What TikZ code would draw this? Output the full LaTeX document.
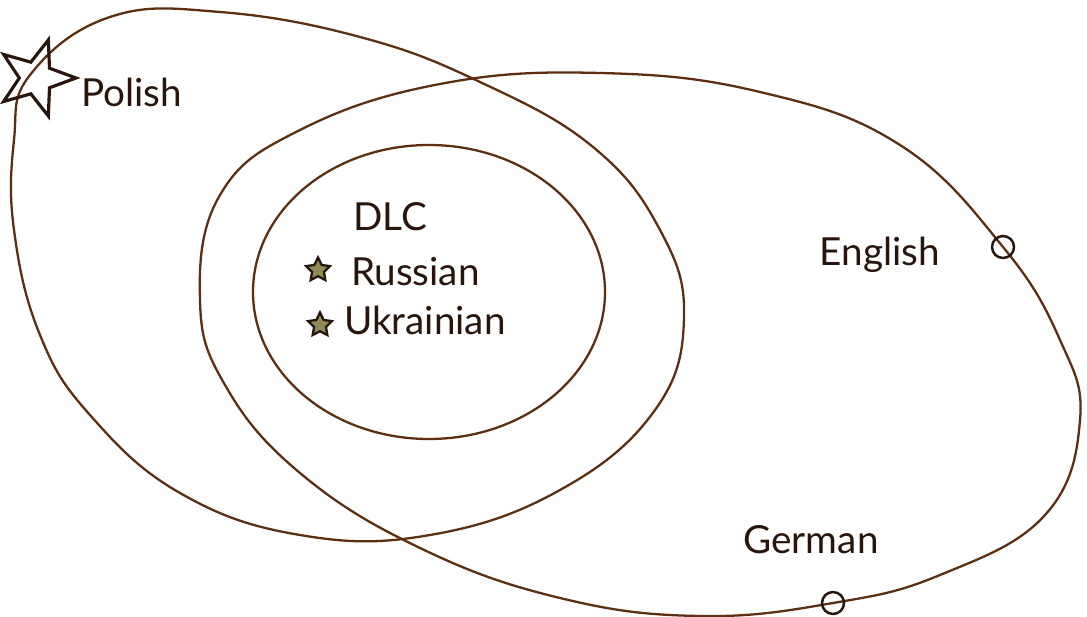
\documentclass[tikz,border=0pt]{standalone}
\usepackage{fontspec}
\setmainfont{Lato}
\usetikzlibrary{shapes.geometric}
\definecolor{pen}{RGB}{92,46,18}
\definecolor{ink}{RGB}{40,22,12}
\begin{document}
\begin{tikzpicture}[x=0.02cm,y=-0.02cm,line width=1.3pt,
  outline/.style={draw=pen,line join=round},
  lang/.style={text=ink,font=\fontsize{22}{26}\selectfont,inner sep=0pt},
  bigstar/.style={star,star points=5,star point ratio=2.4,draw=ink,minimum size=1.6cm,inner sep=0pt,shape border rotate=-90,line width=1.8pt},
  smallstar/.style={star,star points=5,star point ratio=2,draw=ink,fill=gray!60!olive,minimum size=0.5cm,inner sep=0pt,line width=1.3pt},
  ringsym/.style={circle,draw=ink,minimum size=0.44cm,inner sep=0pt,line width=1.4pt}]
\fill[white] (0,0) rectangle (1087,617);
\useasboundingbox (0,0) rectangle (1087,617);
% the three sets
\draw[outline] plot[smooth cycle,tension=0.7] coordinates {(30,75) (110,17) (220,12) (360,37) (480,82) (593,147) (660,230) (684,317) (655,410) (560,490) (430,535) (300,535) (180,493) (90,415) (40,335) (14,230) (14,140)};
\draw[outline] plot[smooth cycle,tension=0.7] coordinates {(600,73) (760,92) (900,145) (1003,247) (1060,340) (1080,420) (1045,515) (940,575) (833,603) (700,616) (560,598) (420,548) (300,473) (225,385) (200,300) (220,195) (300,130) (440,84)};
\draw[outline] (429,292) ellipse [x radius=176,y radius=147];
% languages
\draw node[bigstar] (polstar) at (36,78) {};
\draw node[lang,anchor=west] (polish) at (80,92) {Polish};
\draw node[lang] (dlc) at (390,217) {DLC};
\draw node[smallstar] (rustar) at (318,270) {};
\draw node[lang,anchor=west] (russian) at (350,272) {Russian};
\draw node[smallstar] (ukstar) at (320,325) {};
\draw node[lang,anchor=west] (ukrainian) at (343,320) {Ukrainian};
\draw node[lang] (english) at (880,255) {English};
\draw node[ringsym] (engring) at (1003,247) {};
\draw node[lang] (german) at (811,540) {German};
\draw node[ringsym] (gerring) at (833,603) {};
\end{tikzpicture}
\end{document}
